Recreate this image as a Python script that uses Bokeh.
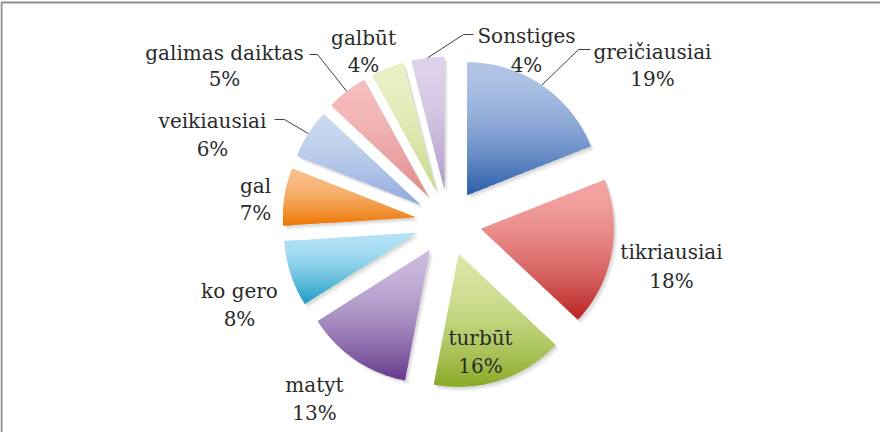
import numpy as np
from bokeh.plotting import figure
from bokeh.models import Range1d, ColumnDataSource
from bokeh.embed import file_html
from bokeh.resources import INLINE
from bokeh.core.properties import value

# ---------------- data ----------------
categories = ["greičiausiai", "tikriausiai", "turbūt", "matyt", "ko gero",
              "gal", "veikiausiai", "galimas daiktas", "galbūt", "Sonstiges"]
shares = [19, 18, 16, 13, 8, 7, 6, 5, 4, 4]
pct_labels = [f"{v}%" for v in shares]

# ---------------- styles ----------------
top_colors = ["#b0c4e6", "#f3a3a1", "#d9e6a4", "#cbb9dd", "#b3e2f6",
              "#f8bf8a", "#cad9f0", "#f6bcbd", "#eaf0c6", "#dfd2ea"]
bottom_colors = ["#2a5dab", "#b92321", "#8aaa27", "#65388b", "#179ac3",
                 "#ee7500", "#8ea8dc", "#de8888", "#c6d888", "#ab96ca"]
FONT = "DejaVu Serif"
TEXT_COLOR = "#2a2a2a"

# ---------------- layout (page pixel coordinates) ----------------
CX, CY = 456, 230
RADIUS = 133
EXPLODE = 33
label_x = [660, 679, 488, 322, 247, 263, 220, 232, 371, 534]
name_base = [59, 259, 345, 392, 298, 193, 128, 60, 45, 43]
pct_base = [86, 288, 373, 420, 326, 220, 156, 86, 72, 72]
# leader lines: slice index -> (stub start x, elbow x, stub y)
leaders = {0: (598, 586, 57), 6: (282, 292, 127), 7: (317, 325, 62), 9: (481, 471, 42)}

p = figure(width=880, height=432, x_range=Range1d(8, 888), y_range=Range1d(440, 8),
           output_backend="svg", toolbar_location=None, min_border=0,
           x_axis_type=None, y_axis_type=None)
p.grid.visible = False
p.outline_line_color = None
p.background_fill_color = "white"
p.border_fill_color = "white"

# chart-area border
p.quad(left=[9], right=[905], top=[10], bottom=[460], fill_color=None,
       line_color="#8c8c8c", line_width=2)


def hex2rgb(h):
    h = h.lstrip("#")
    return np.array([int(h[i:i + 2], 16) for i in (0, 2, 4)], dtype=float)


def rgb2hex(c):
    c = np.clip(np.round(c), 0, 255).astype(int)
    return "#%02x%02x%02x" % tuple(c)


def clip(poly, y0, keep_greater):
    out = []
    n = len(poly)
    for i in range(n):
        P, Q = poly[i], poly[(i + 1) % n]
        inP = P[1] >= y0 if keep_greater else P[1] <= y0
        inQ = Q[1] >= y0 if keep_greater else Q[1] <= y0
        if inP:
            out.append(P)
        if inP != inQ:
            t = (y0 - P[1]) / (Q[1] - P[1])
            out.append((P[0] + t * (Q[0] - P[0]), y0))
    return out


total = float(sum(shares))
cum = np.concatenate([[0.0], np.cumsum(shares)]) / total * 2 * np.pi
polys = []
mids = []
apexes = []
for i in range(len(shares)):
    a0, a1 = cum[i], cum[i + 1]
    am = 0.5 * (a0 + a1)
    ax = CX + EXPLODE * np.sin(am)
    ay = CY - EXPLODE * np.cos(am)
    angs = np.linspace(a0, a1, 80)
    pts = [(ax, ay)] + [(ax + RADIUS * np.sin(a), ay - RADIUS * np.cos(a)) for a in angs]
    polys.append(pts)
    mids.append(am)
    apexes.append((ax, ay))

# soft shadow
for dx, dy, al in [(3.5, 4.5, 0.04), (2.5, 3.0, 0.05), (1.5, 1.8, 0.06)]:
    p.patches(xs=[[q[0] + dx for q in pl] for pl in polys],
              ys=[[q[1] + dy for q in pl] for pl in polys],
              fill_color="#000000", fill_alpha=al, line_color=None)

# gradient-filled slices (horizontal bands, light at top, dark at bottom)
NB = 48
bx, by, bc = [], [], []
for i, pl in enumerate(polys):
    ys_ = [q[1] for q in pl]
    ymin, ymax = min(ys_), max(ys_)
    h = (ymax - ymin) / NB
    c0, c1 = hex2rgb(top_colors[i]), hex2rgb(bottom_colors[i])
    for k in range(NB):
        y0 = ymin + k * h
        y1 = y0 + h + 0.8
        part = clip(clip(pl, y0, True), y1, False)
        if len(part) < 3:
            continue
        t = ((k + 0.5) / NB) ** 1.7
        bx.append([q[0] for q in part])
        by.append([q[1] for q in part])
        bc.append(rgb2hex(c0 + (c1 - c0) * t))
p.patches(xs=bx, ys=by, fill_color=bc, line_color=None)

# leader lines
lx, ly = [], []
for i, (sx, ex, sy) in leaders.items():
    ax, ay = apexes[i]
    tx = ax + RADIUS * np.sin(mids[i])
    ty = ay - RADIUS * np.cos(mids[i])
    lx.append([sx, ex, tx])
    ly.append([sy, sy, ty])
p.multi_line(xs=lx, ys=ly, line_color="#404040", line_width=1)

# labels
src = ColumnDataSource(dict(x=label_x, yn=name_base, yp=pct_base,
                            name=categories, pct=pct_labels))
for col, ycol in (("name", "yn"), ("pct", "yp")):
    p.text(x="x", y=ycol, text=col, source=src, text_font=value(FONT),
           text_font_size="20px", text_color=TEXT_COLOR,
           text_align="center", text_baseline="alphabetic")

open("out.html", "w").write(file_html(p, INLINE))
